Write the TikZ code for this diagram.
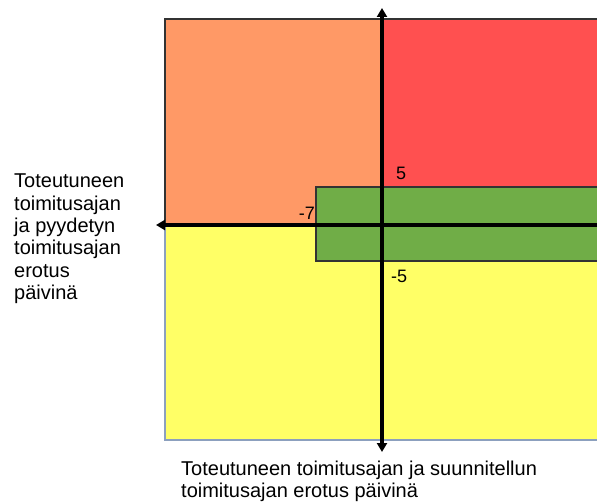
\documentclass[tikz,border=0pt]{standalone}
\usepackage{fontspec}
\setmainfont{Liberation Sans}
\usetikzlibrary{arrows.meta}
\definecolor{zoneorange}{RGB}{255,153,102}
\definecolor{zonered}{RGB}{255,80,80}
\definecolor{zoneyellow}{RGB}{255,255,102}
\definecolor{zonegreen}{RGB}{112,173,71}
\definecolor{frameblue}{RGB}{140,160,190}
\tikzset{
  zone/.style={draw=black!80, line width=1.1pt},
  axis/.style={line width=3.2pt, -{Triangle[length=9pt,width=10pt]}},
  lbl/.style={font=\fontsize{18}{20}\selectfont, inner sep=0pt},
  caption/.style={font=\fontsize{20}{22.3}\selectfont, align=left, inner sep=0pt}
}
\begin{document}
\begin{tikzpicture}[x=1pt,y=-1pt]
\useasboundingbox (0,0) rectangle (597,502);
% quadrant fills
\fill[zoneorange] (165,19) rectangle (382,225);
\fill[zonered] (382,19) rectangle (600,225);
\fill[zoneyellow] (165,225) rectangle (600,440);
% frame borders
\draw[zone] (165,225) -- (165,19) -- (600,19);
\draw[frameblue, line width=1.1pt] (165,225) -- (165,440) -- (600,440);
% accepted band
\draw[zone, fill=zonegreen] (600,187) -- (316,187) -- (316,261) -- (600,261);
% axes
\coordinate (ytop) at (382,8);
\coordinate (ybot) at (382,452);
\coordinate (xleft) at (156,225);
\coordinate (xright) at (600,225);
\draw[axis] (382,225) -- (ytop);
\draw[axis] (382,225) -- (ybot);
\draw[axis] (xright) -- (xleft);
% band limits
\node[lbl, anchor=west] (p5) at (396,173) {5};
\node[lbl, anchor=east] (m7) at (315,213) {-7};
\node[lbl, anchor=west] (m5) at (391,276) {-5};
% axis captions
\node[caption, anchor=north west] (ycap) at (14,174) {Toteutuneen\\toimitusajan\\ja pyydetyn\\toimitusajan\\erotus\\päivinä};
\node[caption, anchor=north west] (xcap) at (181,461) {Toteutuneen toimitusajan ja suunnitellun\\toimitusajan erotus päivinä};
\end{tikzpicture}
\end{document}
